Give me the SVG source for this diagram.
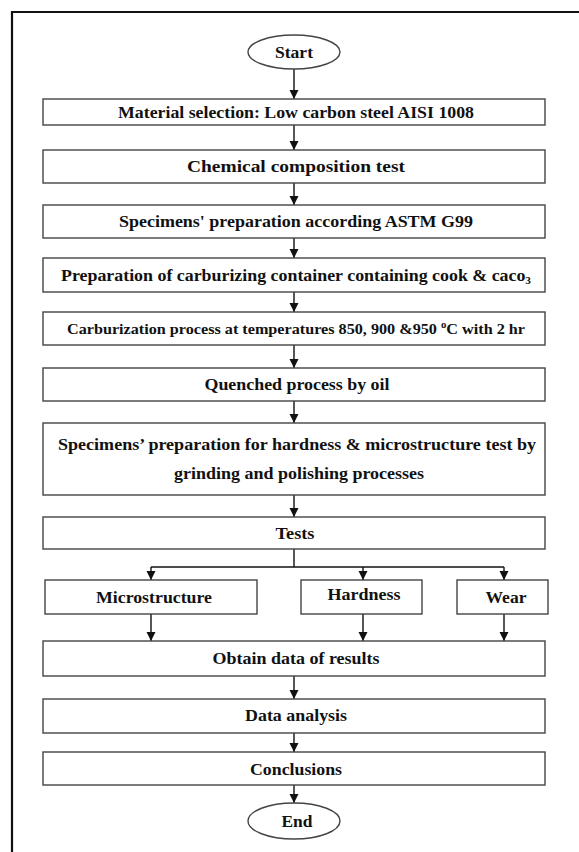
<svg xmlns="http://www.w3.org/2000/svg" width="579" height="852" viewBox="0 0 579 852">
<defs>
<marker id="ah" markerUnits="userSpaceOnUse" markerWidth="10" markerHeight="10" refX="9" refY="4.5" orient="auto">
<path d="M0,0 L9,4.5 L0,9 z" fill="#111"/>
</marker>
<style>
.box{fill:#fff;stroke:#444;stroke-width:1.4}
.t{font-family:"Liberation Serif","Times New Roman",serif;font-weight:bold;font-size:17.5px;fill:#111;text-anchor:middle}
.s{font-size:15px}
.c{fill:none;stroke:#111;stroke-width:1.4}
</style>
</defs>
<rect width="579" height="852" fill="#fff"/>
<path d="M12,852 V12 H579" fill="none" stroke="#111" stroke-width="2.2"/>

<g id="connectors">
<path class="c" d="M294,69 V99" marker-end="url(#ah)"/>
<path class="c" d="M294,125 V150" marker-end="url(#ah)"/>
<path class="c" d="M294,183 V205" marker-end="url(#ah)"/>
<path class="c" d="M294,238 V258" marker-end="url(#ah)"/>
<path class="c" d="M294,292 V312" marker-end="url(#ah)"/>
<path class="c" d="M294,345 V368" marker-end="url(#ah)"/>
<path class="c" d="M294,401 V423" marker-end="url(#ah)"/>
<path class="c" d="M294,495 V517" marker-end="url(#ah)"/>
<path class="c" d="M294,549 V567"/>
<path class="c" d="M151,567 H504"/>
<path class="c" d="M151,567 V580" marker-end="url(#ah)"/>
<path class="c" d="M363,567 V580" marker-end="url(#ah)"/>
<path class="c" d="M504,567 V580" marker-end="url(#ah)"/>
<path class="c" d="M151,614 V641" marker-end="url(#ah)"/>
<path class="c" d="M363,614 V641" marker-end="url(#ah)"/>
<path class="c" d="M504,614 V641" marker-end="url(#ah)"/>
<path class="c" d="M294,676 V699" marker-end="url(#ah)"/>
<path class="c" d="M294,733 V752" marker-end="url(#ah)"/>
<path class="c" d="M294,785 V803" marker-end="url(#ah)"/>
</g>

<g id="start">
<ellipse cx="294" cy="52" rx="46" ry="17" fill="#fff" stroke="#444" stroke-width="1.4"/>
<text class="t" x="294" y="58" textLength="38" lengthAdjust="spacingAndGlyphs">Start</text>
</g>
<g id="material">
<rect class="box" x="43" y="99" width="502" height="26"/>
<text class="t" x="296" y="118" textLength="356" lengthAdjust="spacingAndGlyphs">Material selection: Low carbon steel AISI 1008</text>
</g>
<g id="chemical">
<rect class="box" x="43" y="150" width="502" height="33"/>
<text class="t" x="296" y="172" textLength="218" lengthAdjust="spacingAndGlyphs">Chemical composition test</text>
</g>
<g id="specimens">
<rect class="box" x="43" y="205" width="502" height="33"/>
<text class="t" x="296" y="227" textLength="354" lengthAdjust="spacingAndGlyphs">Specimens' preparation according ASTM G99</text>
</g>
<g id="container">
<rect class="box" x="43" y="258" width="502" height="34"/>
<text class="t" x="296" y="281" textLength="470" lengthAdjust="spacingAndGlyphs">Preparation of carburizing container containing cook &amp; caco<tspan font-size="11" dy="3">3</tspan></text>
</g>
<g id="carburization">
<rect class="box" x="43" y="312" width="502" height="33"/>
<text class="t s" x="296" y="334" textLength="458" lengthAdjust="spacingAndGlyphs">Carburization process at temperatures 850, 900 &amp;950 <tspan font-size="10" dy="-6">o</tspan><tspan dy="6">C with 2 hr</tspan></text>
</g>
<g id="quenched">
<rect class="box" x="43" y="368" width="502" height="33"/>
<text class="t" x="297" y="390" textLength="185" lengthAdjust="spacingAndGlyphs">Quenched process by oil</text>
</g>
<g id="prep2">
<rect class="box" x="43" y="423" width="502" height="72"/>
<text class="t" x="297" y="450" textLength="478" lengthAdjust="spacingAndGlyphs">Specimens’ preparation for hardness &amp; microstructure test by</text>
<text class="t" x="299" y="479" textLength="250" lengthAdjust="spacingAndGlyphs">grinding and polishing processes</text>
</g>
<g id="tests">
<rect class="box" x="43" y="517" width="502" height="32"/>
<text class="t" x="295" y="539" textLength="39" lengthAdjust="spacingAndGlyphs">Tests</text>
</g>
<g id="microstructure">
<rect class="box" x="45" y="580" width="212" height="34"/>
<text class="t" x="154" y="603" textLength="116" lengthAdjust="spacingAndGlyphs">Microstructure</text>
</g>
<g id="hardness">
<rect class="box" x="301" y="580" width="121" height="34"/>
<text class="t" x="364" y="600" textLength="73" lengthAdjust="spacingAndGlyphs">Hardness</text>
</g>
<g id="wear">
<rect class="box" x="457" y="580" width="91" height="34"/>
<text class="t" x="506" y="603" textLength="41" lengthAdjust="spacingAndGlyphs">Wear</text>
</g>
<g id="obtain">
<rect class="box" x="43" y="641" width="502" height="35"/>
<text class="t" x="296" y="664" textLength="167" lengthAdjust="spacingAndGlyphs">Obtain data of results</text>
</g>
<g id="analysis">
<rect class="box" x="43" y="699" width="502" height="34"/>
<text class="t" x="296" y="721" textLength="102" lengthAdjust="spacingAndGlyphs">Data analysis</text>
</g>
<g id="conclusions">
<rect class="box" x="43" y="752" width="502" height="33"/>
<text class="t" x="296" y="775" textLength="92" lengthAdjust="spacingAndGlyphs">Conclusions</text>
</g>
<g id="end">
<ellipse cx="294" cy="821" rx="46" ry="18" fill="#fff" stroke="#444" stroke-width="1.4"/>
<text class="t" x="297" y="827" textLength="31" lengthAdjust="spacingAndGlyphs">End</text>
</g>
</svg>
